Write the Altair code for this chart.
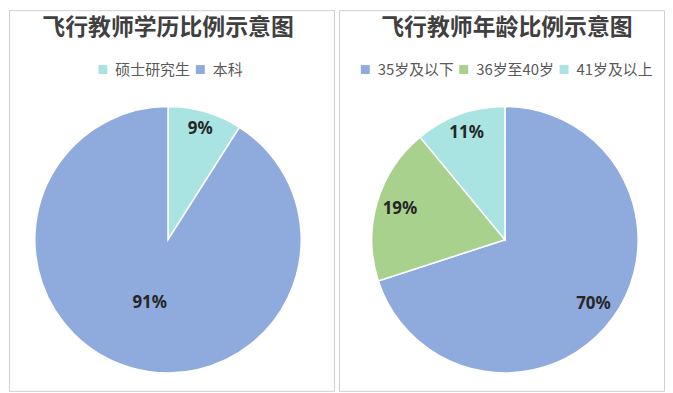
import altair as alt
import pandas as pd

# ---- data ----
edu_cats = ["硕士研究生", "本科"]
edu_vals = [9, 91]
age_cats = ["35岁及以下", "36岁至40岁", "41岁及以上"]
age_vals = [70, 19, 11]

edu_title = "飞行教师学历比例示意图"
age_title = "飞行教师年龄比例示意图"

BLUE = "#8FAADC"
GREEN = "#A9D18E"
CYAN = "#A9E4E2"

CJK = "Noto Sans CJK SC"


def make_df(cats, vals):
    df = pd.DataFrame({"类别": cats, "比例": vals, "序": list(range(len(cats)))})
    df["标签"] = df["比例"].astype(str) + "%"
    return df


def pie(cats, vals, colors, cx, cy, title, tx, lx, radius_expr, w, h):
    df = make_df(cats, vals)
    arc = alt.Chart(df).mark_arc(outerRadius=134, stroke="white", strokeWidth=1.5).encode(
        theta=alt.Theta("比例:Q", stack=True),
        order=alt.Order("序:Q"),
        x=alt.value(cx),
        y=alt.value(cy),
        color=alt.Color(
            "类别:N",
            scale=alt.Scale(domain=cats, range=colors),
            legend=alt.Legend(
                title=None,
                orient="none",
                legendX=lx,
                legendY=52,
                direction="horizontal",
                symbolType="square",
                symbolSize=81,
                symbolStrokeWidth=0,
                labelFont=CJK,
                labelFontSize=15,
                labelColor="#595959",
                labelOffset=5,
                columnPadding=2,
                padding=0,
            ),
        ),
    )
    labels = alt.Chart(df).mark_text(
        font="Noto Sans", fontSize=17, fontWeight="bold", color="#262626",
        align="center", baseline="middle",
    ).transform_window(
        cum="sum(比例)", sort=[alt.SortField("序")]
    ).transform_calculate(
        mid="datum.cum - datum['比例'] / 2", r=radius_expr
    ).encode(
        theta=alt.Theta("mid:Q", stack=None),
        radius=alt.Radius("r:Q", scale=None),
        x=alt.value(cx),
        y=alt.value(cy),
        text="标签:N",
    )
    tdf = pd.DataFrame({"t": [title]})
    ttl = alt.Chart(tdf).mark_text(
        font=CJK, fontSize=23, fontWeight="bold", color="#404040",
        align="center", baseline="middle",
    ).encode(text="t:N", x=alt.value(tx), y=alt.value(18))
    return alt.layer(arc, labels, ttl).properties(width=w, height=h)


left = pie(edu_cats, edu_vals, [CYAN, BLUE], 160, 231, edu_title, 160, 87,
           "datum['类别'] == '本科' ? 66 : 116", 327, 383)
right = pie(age_cats, age_vals, [BLUE, GREEN, CYAN], 167, 231, age_title, 169, 19,
            "datum['类别'] == '41岁及以上' ? 114 : 110", 327, 383)

chart = alt.hconcat(left, right, spacing=3).resolve_scale(
    color="independent", theta="independent"
).properties(padding=0, background="white").configure_view(
    stroke="#D0D0D0", strokeWidth=1
)

chart.save("out.html", embed_options={"renderer": "svg", "actions": False})
